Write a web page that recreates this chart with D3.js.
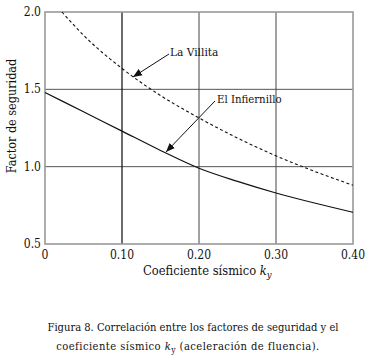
<!DOCTYPE html>
<html>
<head>
<meta charset="utf-8">
<script src="https://cdn.jsdelivr.net/npm/d3@7"></script>
<style>
  body { margin: 0; background: #fff; }
  svg text { font-family: "DejaVu Serif Condensed", "DejaVu Serif", serif; font-stretch: condensed; fill: #111; }
</style>
</head>
<body>
<div id="chart"></div>
<script>
// data
const kx = [0, 0.05, 0.10, 0.15, 0.20, 0.25, 0.30, 0.35, 0.40]
const infiernillo = [1.48, 1.355, 1.23, 1.105, 0.99, 0.905, 0.83, 0.765, 0.705]
const villitaX = [0.022, 0.05, 0.10, 0.15, 0.20, 0.25, 0.30, 0.35, 0.40]
const villita = [2.0, 1.85, 1.635, 1.46, 1.315, 1.185, 1.07, 0.97, 0.88]
const xTicks = [0, 0.1, 0.2, 0.3, 0.4]
const yTicks = [0.5, 1.0, 1.5, 2.0]
const xTickLabels = ['0', '0.10', '0.20', '0.30', '0.40']

const width = 370
const height = 362

const svg = d3.select('#chart')
  .append('svg')
  .attr('width', width)
  .attr('height', height)

const x = d3.scaleLinear().domain([0, 0.4]).range([45, 353])
const y = d3.scaleLinear().domain([0.5, 2.0]).range([244, 12])

// arrow head
svg.append('defs').append('marker')
  .attr('id', 'arrow')
  .attr('viewBox', '0 0 10 10')
  .attr('refX', 10).attr('refY', 5)
  .attr('markerWidth', 9).attr('markerHeight', 9)
  .attr('markerUnits', 'userSpaceOnUse')
  .attr('orient', 'auto')
  .append('path')
  .attr('d', 'M0,1 L10,5 L0,9 Z')
  .attr('fill', '#111')

const grid = svg.append('g')

// horizontal grid
grid.selectAll('.hgrid')
  .data(yTicks.filter(d => d > 0.5 && d < 2.0))
  .enter().append('line')
  .attr('x1', x(0)).attr('x2', x(0.4))
  .attr('y1', d => y(d)).attr('y2', d => y(d))
  .attr('stroke', '#555').attr('stroke-width', 1)

// vertical grid
grid.selectAll('.vgrid')
  .data(xTicks.filter(d => d > 0 && d < 0.4))
  .enter().append('line')
  .attr('x1', d => x(d)).attr('x2', d => x(d))
  .attr('y1', y(2.0)).attr('y2', y(0.5))
  .attr('stroke', d => d === 0.1 ? '#000' : '#444')
  .attr('stroke-width', d => d === 0.1 ? 1.15 : 1)

// frame
svg.append('rect')
  .attr('x', x(0)).attr('y', y(2.0))
  .attr('width', x(0.4) - x(0)).attr('height', y(0.5) - y(2.0))
  .attr('fill', 'none')
  .attr('stroke', '#999').attr('stroke-width', 1.6)

// curves
const line = d3.line().curve(d3.curveMonotoneX)

svg.append('path')
  .datum(kx.map((d, i) => [x(d), y(infiernillo[i])]))
  .attr('d', line)
  .attr('fill', 'none')
  .attr('stroke', '#111').attr('stroke-width', 1.2)

svg.append('path')
  .datum(villitaX.map((d, i) => [x(d), y(villita[i])]))
  .attr('d', line)
  .attr('fill', 'none')
  .attr('stroke', '#111').attr('stroke-width', 1.1)
  .attr('stroke-dasharray', '3,2.5')

// tick labels
svg.selectAll('.ylab')
  .data(yTicks)
  .enter().append('text')
  .attr('x', 41)
  .attr('y', d => y(d) + 4)
  .attr('text-anchor', 'end')
  .style('font-size', '12px')
  .text(d => d.toFixed(1))

svg.selectAll('.xlab')
  .data(xTicks)
  .enter().append('text')
  .attr('x', d => x(d))
  .attr('y', 259)
  .attr('text-anchor', 'middle')
  .style('font-size', '12px')
  .text((d, i) => xTickLabels[i])

// axis titles
const xt = svg.append('text')
  .attr('x', 143)
  .attr('y', 275)
  .style('font-size', '12.8px')
xt.append('tspan').text('Coeficiente sísmico ')
xt.append('tspan').style('font-style', 'italic').text('k')
xt.append('tspan').attr('dy', 3).style('font-style', 'italic').style('font-size', '9.5px').text('y')

svg.append('text')
  .attr('transform', 'translate(16,116) rotate(-90)')
  .attr('text-anchor', 'middle')
  .style('font-size', '12.5px')
  .text('Factor de seguridad')

// annotations
svg.append('text')
  .attr('x', 170).attr('y', 56)
  .style('font-size', '11.8px')
  .text('La Villita')

svg.append('line')
  .attr('x1', 169).attr('y1', 54)
  .attr('x2', 133).attr('y2', 77)
  .attr('stroke', '#111').attr('stroke-width', 1)
  .attr('marker-end', 'url(#arrow)')

svg.append('text')
  .attr('x', 217).attr('y', 103)
  .style('font-size', '11.3px')
  .text('El Infiernillo')

svg.append('line')
  .attr('x1', 215).attr('y1', 101)
  .attr('x2', 166).attr('y2', 152)
  .attr('stroke', '#111').attr('stroke-width', 1)
  .attr('marker-end', 'url(#arrow)')

// caption
svg.append('text')
  .attr('text-anchor', 'middle')
  .attr('x', 193).attr('y', 331)
  .style('font-size', '11.1px')
  .text('Figura 8. Correlación entre los factores de seguridad y el')

const l2 = svg.append('text')
  .attr('text-anchor', 'middle')
  .attr('x', 188).attr('y', 350)
  .style('font-size', '11.1px')
  .style('letter-spacing', '0.45px')
l2.append('tspan').text('coeficiente sísmico ')
l2.append('tspan').style('font-style', 'italic').text('k')
l2.append('tspan').attr('dy', 3).style('font-size', '8.5px').text('y')
l2.append('tspan').attr('dy', -3).text(' (aceleración de fluencia).')
</script>
</body>
</html>
